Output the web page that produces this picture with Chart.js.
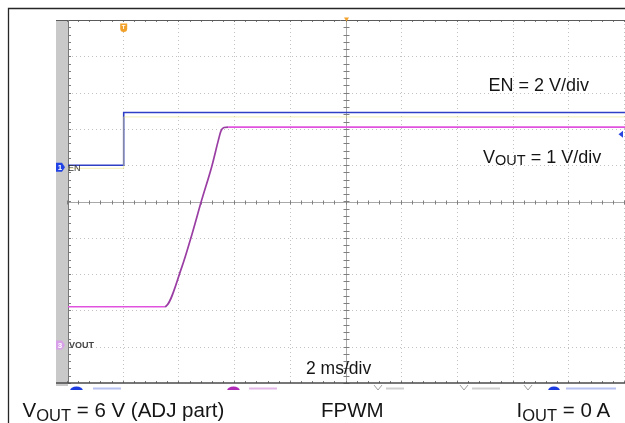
<!DOCTYPE html>
<html>
<head>
<meta charset="utf-8">
<script src="https://cdn.jsdelivr.net/npm/chart.js@4.4.1/dist/chart.umd.min.js"></script>
<style>
body { margin: 0; background: #fff; }
#wrap { position: relative; width: 625px; height: 423px; overflow: hidden; font-family: "Liberation Sans", Arial, sans-serif; color: #151515; }
#wrap canvas { position: absolute; left: 0; top: 0; }
.lbl { position: absolute; white-space: nowrap; line-height: 1; }
.sub { position: relative; }
</style>
</head>
<body>
<div id="wrap">
  <canvas id="scope" width="625" height="423"></canvas>

  <div class="lbl" style="left:488.5px;top:75.5px;font-size:18px">EN = 2 V/div</div>
  <div class="lbl" style="left:483px;top:148px;font-size:18px">V<span class="sub" style="font-size:14.5px;top:1.5px">OUT</span> = 1 V/div</div>
  <div class="lbl" style="left:306px;top:360px;font-size:17.5px">2 ms/div</div>

  <div class="lbl" style="left:68px;top:163.5px;font-size:9px;color:#333">EN</div>
  <div class="lbl" style="left:69px;top:340.5px;font-size:9px;font-weight:bold;color:#444">VOUT</div>

  <div class="lbl" style="left:22.5px;top:399.5px;font-size:20.5px">V<span class="sub" style="font-size:16.5px;top:4px">OUT</span> = 6 V (ADJ part)</div>
  <div class="lbl" style="left:321px;top:399.5px;font-size:20.5px">FPWM</div>
  <div class="lbl" style="left:516.5px;top:399.5px;font-size:20.5px">I<span class="sub" style="font-size:16.5px;top:4px">OUT</span> = 0 A</div>
</div>

<script>
// horizontal: 2 ms/div, trigger at 0 ms
var timeDivMs = 2;
var timeMin = -2;
var timeMax = 18;

// EN channel (2 V/div)
var enTime = [-2, 0, 0, 18];
var enVolts = [0, 0, 2.9, 2.9];
var enTrigLevel = 1.7;

// faint yellow channel riding under EN
var ch2Time = [-2, 0, 0, 18];
var ch2Volts = [-0.17, -0.17, 2.66, 2.66];

// VOUT channel (1 V/div)
var voutTime = [-2, 1.465, 2.09, 2.46, 2.8, 3.16, 3.4, 3.49, 3.6, 3.75, 18];
var voutVolts = [1.05, 1.05, 2.15, 3.07, 3.99, 4.91, 5.64, 5.89, 5.99, 6.0, 6.0];

function toPoints(xs, ys) {
    return xs.map(function (t, i) { return { x: t, y: ys[i] }; });
}

function hline(ctx, x1, x2, y) { ctx.beginPath(); ctx.moveTo(x1, y); ctx.lineTo(x2, y); ctx.stroke(); }
function vline(ctx, x, y1, y2) { ctx.beginPath(); ctx.moveTo(x, y1); ctx.lineTo(x, y2); ctx.stroke(); }

var scopePlugin = {
    id: 'scope',
    beforeDatasetsDraw: function (chart) {
        var ctx = chart.ctx, a = chart.chartArea;
        var sx = chart.scales.x, sd = chart.scales.div;
        var t, v, px, py;
        ctx.save();

        // gray strip left of the screen
        ctx.fillStyle = '#c9c9c9';
        ctx.fillRect(56, a.top, a.left - 56, a.bottom - a.top + 3);

        // dotted graticule
        ctx.strokeStyle = '#c2c2c2';
        ctx.lineWidth = 1;
        ctx.setLineDash([1, 3]);
        for (t = timeMin + timeDivMs; t < timeMax + 0.01; t += timeDivMs) {
            px = Math.round(sx.getPixelForValue(t)) - 0.5;
            vline(ctx, px, a.top, a.bottom);
        }
        for (v = 1; v < 10; v++) {
            py = Math.round(sd.getPixelForValue(v)) + 0.5;
            hline(ctx, a.left, a.right, py);
        }
        ctx.setLineDash([]);

        // centre cross
        var cx = Math.round(sx.getPixelForValue((timeMin + timeMax) / 2)) - 0.5;
        var cy = Math.round(sd.getPixelForValue(5)) + 0.5;
        ctx.strokeStyle = '#a9a9a9';
        hline(ctx, a.left, a.right, cy);
        vline(ctx, cx, a.top, a.bottom);

        ctx.strokeStyle = '#7e7e7e';
        for (t = timeMin; t < timeMax + 0.01; t += timeDivMs / 5) {
            px = Math.round(sx.getPixelForValue(t)) - 0.5;
            vline(ctx, px, cy - 2, cy + 2);
            vline(ctx, px, a.top, a.top + 2);
            vline(ctx, px, a.bottom - 2, a.bottom);
        }
        for (v = 0; v < 10.01; v += 0.2) {
            py = Math.round(sd.getPixelForValue(v)) + 0.5;
            hline(ctx, cx - 3, cx + 3, py);
            hline(ctx, a.left, a.left + 3, py);
        }

        // screen edges
        ctx.strokeStyle = '#5a5a5a';
        hline(ctx, a.left - 12, a.right, a.top + 0.5);
        ctx.strokeStyle = '#777';
        vline(ctx, a.left + 0.5, a.top, a.bottom);
        ctx.strokeStyle = '#4a4a4a';
        ctx.lineWidth = 1.5;
        hline(ctx, a.left - 12, a.right, a.bottom);
        ctx.restore();
    },
    afterDatasetsDraw: function (chart) {
        var ctx = chart.ctx, a = chart.chartArea;
        var sx = chart.scales.x, sEn = chart.scales.en, sOut = chart.scales.vout;
        ctx.save();

        // channel ground markers
        var y1 = sEn.getPixelForValue(0) + 2;
        ctx.fillStyle = '#2143e6';
        ctx.beginPath();
        ctx.moveTo(56, y1 - 4.5); ctx.lineTo(62, y1 - 4.5); ctx.lineTo(65, y1);
        ctx.lineTo(62, y1 + 4.5); ctx.lineTo(56, y1 + 4.5); ctx.closePath(); ctx.fill();
        var y3 = sOut.getPixelForValue(0);
        ctx.fillStyle = '#d8a0e8';
        ctx.beginPath();
        ctx.moveTo(56, y3 - 4.5); ctx.lineTo(62, y3 - 4.5); ctx.lineTo(65, y3);
        ctx.lineTo(62, y3 + 4.5); ctx.lineTo(56, y3 + 4.5); ctx.closePath(); ctx.fill();
        ctx.fillStyle = '#fff';
        ctx.font = 'bold 8px "Liberation Sans", Arial';
        ctx.textAlign = 'center';
        ctx.textBaseline = 'middle';
        ctx.fillText('1', 60, y1 + 0.5);
        ctx.fillText('3', 60, y3 + 0.5);

        // trigger position marker
        var tx = sx.getPixelForValue(0);
        ctx.fillStyle = '#f2a12a';
        ctx.beginPath();
        ctx.moveTo(tx - 3.5, 23.5); ctx.lineTo(tx + 3.5, 23.5); ctx.lineTo(tx + 3.5, 28.5);
        ctx.quadraticCurveTo(tx + 3.5, 32, tx, 32); ctx.quadraticCurveTo(tx - 3.5, 32, tx - 3.5, 28.5);
        ctx.closePath(); ctx.fill();
        ctx.fillStyle = '#fff';
        ctx.font = 'bold 6px "Liberation Sans", Arial';
        ctx.fillText('T', tx, 27.5);

        // delay marker at top centre
        var mx = sx.getPixelForValue((timeMin + timeMax) / 2);
        ctx.fillStyle = '#f2a12a';
        ctx.beginPath();
        ctx.moveTo(mx - 2.5, 17.5); ctx.lineTo(mx + 2.5, 17.5); ctx.lineTo(mx, 21.5); ctx.closePath(); ctx.fill();

        // EN trigger level arrow on the right edge
        var ty = sEn.getPixelForValue(enTrigLevel);
        ctx.fillStyle = '#2a46e0';
        ctx.beginPath();
        ctx.moveTo(618.5, ty); ctx.lineTo(623, ty - 3.5); ctx.lineTo(623, ty + 3.5); ctx.closePath(); ctx.fill();

        // cut-off status bar below the screen
        ctx.beginPath();
        ctx.rect(a.left, a.bottom + 1, a.right - a.left, 6);
        ctx.clip();
        ctx.fillStyle = '#1c3be0';
        ctx.beginPath(); ctx.ellipse(76.5, 391, 6.5, 4.5, 0, 0, Math.PI * 2); ctx.fill();
        ctx.beginPath(); ctx.ellipse(554, 391, 6, 4.5, 0, 0, Math.PI * 2); ctx.fill();
        ctx.fillStyle = '#b02ab8';
        ctx.beginPath(); ctx.ellipse(233.5, 391, 6.5, 4.5, 0, 0, Math.PI * 2); ctx.fill();
        ctx.fillStyle = '#b8c2f2';
        ctx.fillRect(93, 387.5, 28, 2);
        ctx.fillRect(566, 387.5, 50, 2);
        ctx.fillStyle = '#e2b8e8';
        ctx.fillRect(249, 387.5, 28, 2);
        ctx.strokeStyle = '#a0a0a0';
        ctx.lineWidth = 1;
        [378, 464, 528].forEach(function (x) {
            ctx.beginPath(); ctx.moveTo(x - 4, 385); ctx.lineTo(x, 390); ctx.lineTo(x + 4, 385); ctx.stroke();
        });
        ctx.fillStyle = '#cfcfcf';
        ctx.fillRect(386, 387.5, 18, 2);
        ctx.fillRect(472, 387.5, 28, 2);
        ctx.restore();
    },
    afterDraw: function (chart) {
        var ctx = chart.ctx;
        ctx.save();
        ctx.strokeStyle = '#262626';
        ctx.lineWidth = 1.3;
        ctx.beginPath();
        ctx.moveTo(8.5, 423); ctx.lineTo(8.5, 8.5); ctx.lineTo(625, 8.5);
        ctx.stroke();
        ctx.restore();
    }
};

var rampColor = function (c) {
    return c.p0.parsed.y === c.p1.parsed.y ? '#e152df' : '#9a3ea4';
};

new Chart(document.getElementById('scope'), {
    type: 'line',
    data: {
        datasets: [
            {
                label: 'CH2',
                data: toPoints(ch2Time, ch2Volts),
                yAxisID: 'en',
                borderColor: 'rgba(235, 225, 120, 0.55)',
                borderWidth: 1,
                pointRadius: 0
            },
            {
                label: 'EN',
                data: toPoints(enTime, enVolts),
                yAxisID: 'en',
                borderColor: '#3040c6',
                borderWidth: 1.6,
                pointRadius: 0
            },
            {
                label: 'VOUT',
                data: toPoints(voutTime, voutVolts),
                yAxisID: 'vout',
                borderColor: '#e152df',
                borderWidth: 1.7,
                pointRadius: 0,
                cubicInterpolationMode: 'monotone',
                segment: { borderColor: rampColor }
            }
        ]
    },
    options: {
        responsive: false,
        animation: false,
        events: [],
        layout: { padding: { left: 68, top: 20, right: 0, bottom: 40 } },
        plugins: { legend: { display: false }, tooltip: { enabled: false } },
        scales: {
            x: { type: 'linear', axis: 'x', position: 'bottom', min: timeMin, max: timeMax, display: false },
            en: { type: 'linear', axis: 'y', position: 'left', min: -12, max: 8, display: false },
            vout: { type: 'linear', axis: 'y', position: 'left', min: -1.05, max: 8.95, display: false },
            div: { type: 'linear', axis: 'y', position: 'left', min: 0, max: 10, display: false }
        }
    },
    plugins: [scopePlugin]
});
</script>
</body>
</html>
